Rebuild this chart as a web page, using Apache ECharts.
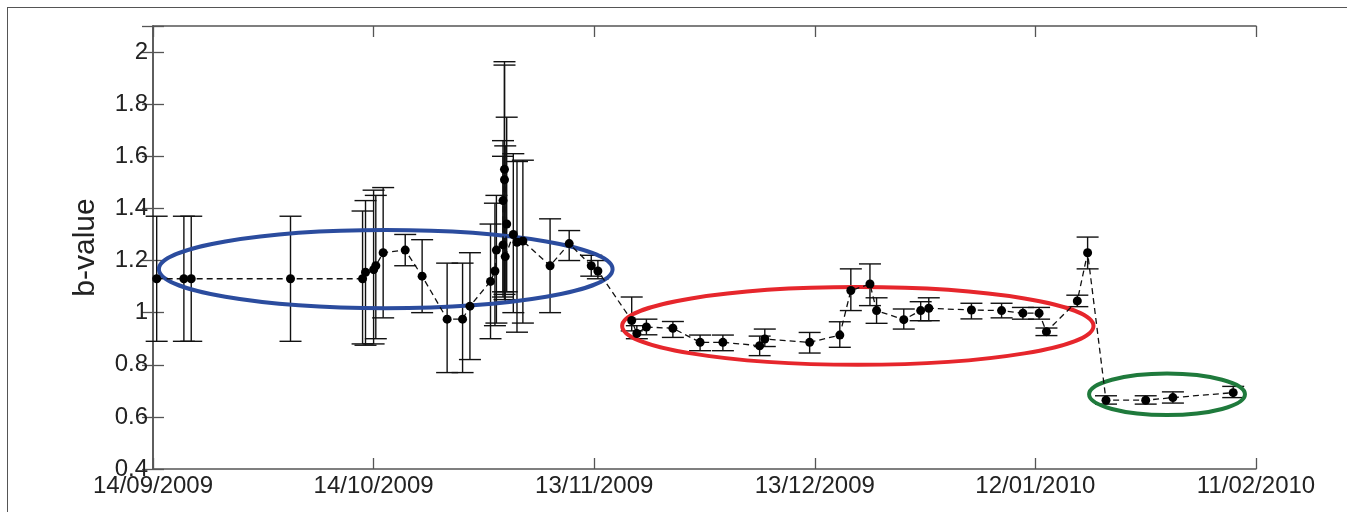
<!DOCTYPE html>
<html>
<head>
<meta charset="utf-8">
<script src="https://cdn.jsdelivr.net/npm/echarts@6/dist/echarts.min.js"></script>
<style>
  html, body { margin: 0; padding: 0; background: #fff; }
  #frame { position: absolute; left: 7px; top: 7px; width: 1400px; height: 600px; border: 1px solid #555; }
  #chart { position: absolute; left: 0; top: 0; width: 1347px; height: 512px; }
</style>
</head>
<body>
<div id="frame"></div>
<div id="chart"></div>
<script>
// x = days since 14/09/2009
const tickLabels = ['14/09/2009', '14/10/2009', '13/11/2009', '13/12/2009', '12/01/2010', '11/02/2010']

const days = [
  0.5, 4.2, 5.2, 18.7, 28.5, 28.9, 30.0, 30.3, 31.3, 34.3, 36.6, 40.0, 42.1, 43.1,
  45.9, 46.5, 46.7, 47.6, 47.6, 47.8, 47.8, 48.1, 47.9, 49.0, 49.5, 50.3,
  54.0, 56.6, 59.6, 60.5,
  65.1, 65.8, 67.1, 70.7, 74.4, 77.5, 82.5, 83.2, 89.3, 93.4, 94.9, 97.5, 98.4,
  102.1, 104.4, 105.5, 111.3, 115.4, 118.3, 120.5, 121.5, 125.7, 127.1,
  129.6, 135.0, 138.7, 146.9
]
const bValue = [
  1.13, 1.13, 1.13, 1.13, 1.13, 1.155, 1.165, 1.18, 1.23, 1.24, 1.14, 0.975, 0.975, 1.025,
  1.12, 1.16, 1.24, 1.26, 1.43, 1.51, 1.55, 1.34, 1.215, 1.30, 1.27, 1.275,
  1.18, 1.265, 1.18, 1.16,
  0.97, 0.92, 0.945, 0.94, 0.886, 0.886, 0.873, 0.899, 0.886, 0.914, 1.085, 1.11, 1.008,
  0.973, 1.008, 1.017, 1.01, 1.008, 0.998, 0.998, 0.927, 1.045, 1.23,
  0.664, 0.664, 0.674, 0.693
]
const errLow = [
  0.89, 0.89, 0.89, 0.89, 0.88, 0.875, 0.88, 0.9, 0.98, 1.18, 1.0, 0.77, 0.77, 0.82,
  0.90, 0.95, 0.96, 1.08, 1.06, 1.07, 1.05, 1.08, 1.04, 1.0, 0.925, 0.96,
  1.0, 1.2, 1.14, 1.13,
  0.93, 0.90, 0.915, 0.905, 0.854, 0.854, 0.835, 0.87, 0.845, 0.867, 1.008, 1.027, 0.959,
  0.937, 0.969, 0.969, 0.976, 0.98, 0.975, 0.975, 0.912, 1.023, 1.168,
  0.649, 0.649, 0.653, 0.674
]
const errHigh = [
  1.37, 1.37, 1.37, 1.37, 1.39, 1.43, 1.47, 1.45, 1.48, 1.30, 1.28, 1.19, 1.19, 1.23,
  1.34, 1.42, 1.45, 1.60, 1.66, 1.95, 1.963, 1.75, 1.64, 1.61, 1.58, 1.585,
  1.36, 1.315, 1.22, 1.20,
  1.06, 0.95, 0.975, 0.966, 0.914, 0.914, 0.91, 0.937, 0.924, 0.965, 1.168, 1.187, 1.057,
  1.014, 1.042, 1.057, 1.036, 1.036, 1.02, 1.02, 0.941, 1.067, 1.29,
  0.681, 0.681, 0.696, 0.717
]

// annotation ellipses: [dayFrom, dayTo, valueFrom, valueTo]
const blueEllipse = [0.8, 62.5, 1.017, 1.317]
const redEllipse = [63.8, 127.9, 0.80, 1.098]
const greenEllipse = [127.3, 148.5, 0.607, 0.766]
const ellipseColors = ['#2b4c9e', '#e6262c', '#1f7a3c']

const font = 'Liberation Sans, Arial, sans-serif'

const chart = echarts.init(document.getElementById('chart'))

function renderErrorBar(params, api) {
  const lo = api.coord([api.value(0), api.value(1)])
  const hi = api.coord([api.value(0), api.value(2)])
  const w = 11
  const style = { stroke: '#111', lineWidth: 1.4, fill: null }
  return {
    type: 'group',
    children: [
      { type: 'line', shape: { x1: lo[0], y1: lo[1], x2: hi[0], y2: hi[1] }, style: style },
      { type: 'line', shape: { x1: lo[0] - w, y1: lo[1], x2: lo[0] + w, y2: lo[1] }, style: style },
      { type: 'line', shape: { x1: hi[0] - w, y1: hi[1], x2: hi[0] + w, y2: hi[1] }, style: style }
    ]
  }
}

function renderEllipse(params, api) {
  const p0 = api.coord([api.value(0), api.value(2)])
  const p1 = api.coord([api.value(1), api.value(3)])
  return {
    type: 'ellipse',
    shape: {
      cx: (p0[0] + p1[0]) / 2,
      cy: (p0[1] + p1[1]) / 2,
      rx: Math.abs(p1[0] - p0[0]) / 2,
      ry: Math.abs(p1[1] - p0[1]) / 2
    },
    style: { stroke: ellipseColors[params.dataIndex], lineWidth: 4, fill: null }
  }
}

const tickStyle = { inside: true, length: 11, lineStyle: { color: '#555', width: 1.3 } }
const lineStyle = { lineStyle: { color: '#555', width: 1.5 } }

chart.setOption({
  animation: false,
  grid: { left: 153, right: 91, top: 26, bottom: 43 },
  xAxis: [
    {
      type: 'value',
      min: 0,
      max: 150,
      interval: 30,
      position: 'bottom',
      axisLine: lineStyle,
      axisTick: tickStyle,
      splitLine: { show: false },
      axisLabel: {
        formatter: v => tickLabels[Math.round(v / 30)],
        fontSize: 24,
        color: '#222',
        fontFamily: font,
        margin: 5,
        showMinLabel: true,
        showMaxLabel: true
      }
    },
    {
      type: 'value',
      min: 0,
      max: 150,
      interval: 30,
      position: 'top',
      axisLine: lineStyle,
      axisTick: tickStyle,
      splitLine: { show: false },
      axisLabel: { show: false }
    }
  ],
  yAxis: [
    {
      type: 'value',
      min: 0.4,
      max: 2.1,
      interval: 0.2,
      position: 'left',
      axisLine: lineStyle,
      axisTick: tickStyle,
      splitLine: { show: false },
      axisLabel: {
        formatter: v => (Math.abs(v * 5 - Math.round(v * 5)) > 1e-6 ? '' : String(+v.toFixed(1))),
        fontSize: 24,
        color: '#222',
        fontFamily: font,
        margin: 5
      },
      name: 'b-value',
      nameLocation: 'middle',
      nameGap: 52,
      nameTextStyle: { fontSize: 30, color: '#222', fontFamily: font }
    },
    {
      type: 'value',
      min: 0.4,
      max: 2.1,
      interval: 0.2,
      position: 'right',
      axisLine: lineStyle,
      axisTick: tickStyle,
      splitLine: { show: false },
      axisLabel: { show: false }
    }
  ],
  series: [
    {
      type: 'custom',
      renderItem: renderErrorBar,
      encode: { x: 0, y: [1, 2] },
      data: days.map((d, i) => [d, errLow[i], errHigh[i]]),
      z: 2,
      silent: true
    },
    {
      type: 'custom',
      renderItem: renderEllipse,
      encode: { x: [0, 1], y: [2, 3] },
      data: [blueEllipse, redEllipse, greenEllipse],
      clip: false,
      z: 3,
      silent: true
    },
    {
      type: 'line',
      data: days.map((d, i) => [d, bValue[i]]),
      symbol: 'circle',
      symbolSize: 9,
      showAllSymbol: true,
      itemStyle: { color: '#000' },
      lineStyle: { color: '#111', width: 1.3, type: [6, 4] },
      z: 4,
      silent: true
    }
  ]
})
</script>
</body>
</html>
